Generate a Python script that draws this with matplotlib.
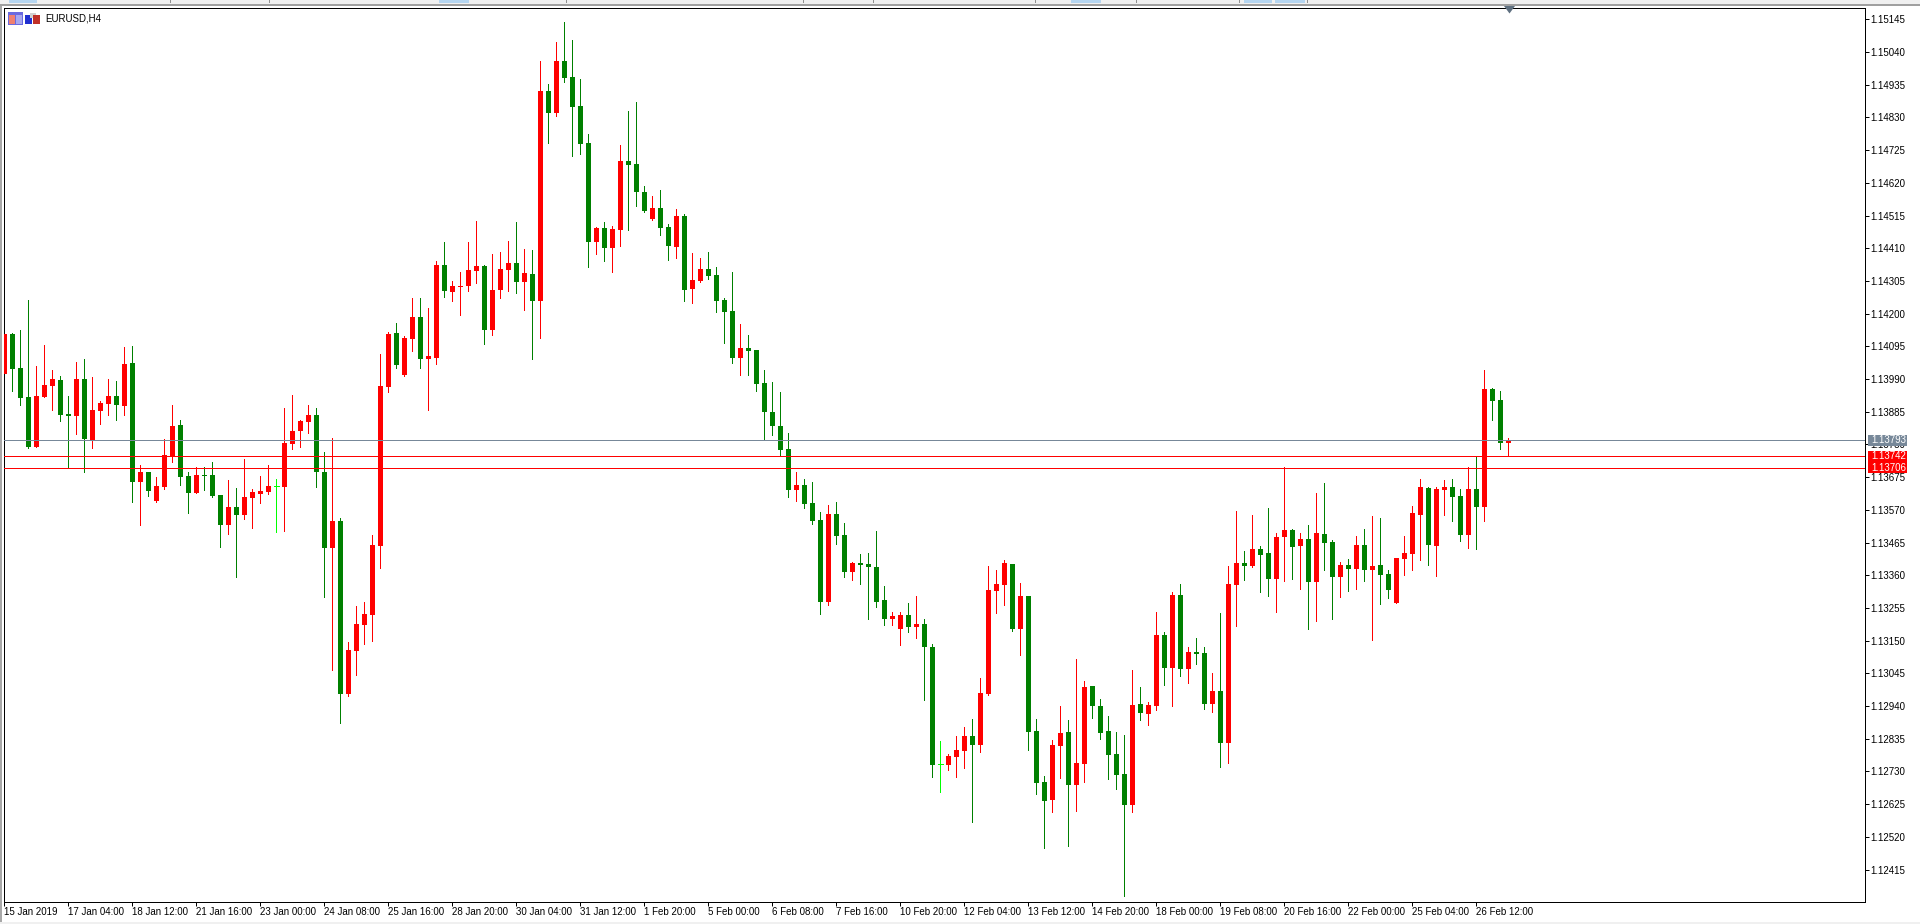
import numpy as np
import matplotlib
matplotlib.use("Agg")
import matplotlib.pyplot as plt
from matplotlib.patches import Rectangle, Polygon
from matplotlib.transforms import IdentityTransform

# EURUSD H4 candles, prices in units of 0.00001
opens = [
    114007,114136,114026,113933,113773,113933,113968,113988,113879,113872,
    113991,113795,113888,113911,113936,113904,114042,113660,113692,113599,
    113644,113741,113843,113680,113625,113683,113683,113619,113522,113580,
    113554,113609,113622,113628,113646,113644,113782,113824,113853,113875,
    113692,113448,113535,112980,113118,113201,113233,113455,113965,114139,
    114004,114119,114190,114055,114058,114357,114270,114286,114290,114338,
    114354,114148,114277,114341,114363,114302,114328,114241,114916,114845,
    115012,114961,114868,114749,114431,114476,114412,114470,114691,114681,
    114592,114505,114540,114479,114415,114514,114280,114306,114344,114325,
    114245,114209,114058,114091,114084,113978,113885,113840,
    113767,113635,113651,113593,113539,113275,113558,113490,113372,113401,
    113397,113388,113279,113218,113189,113234,113195,113205,113131,112753,
    112752,112778,112797,112845,112816,112980,113311,113330,113397,113189,
    113292,112861,112697,112640,112813,112858,112685,112755,113006,
    112941,112861,112787,112723,112623,112947,112915,112941,113169,113063,
    113297,113060,113114,113111,112947,112989,112822,113329,113400,113390,
    113445,113432,113349,113484,113506,113455,113477,113339,113493,113467,
    113355,113394,113381,113458,113378,113394,113365,113272,113413,113429,
    113554,113641,113455,113634,113644,113615,113490,113638,113580,113959,
    113923,113785,
]
highs = [
    114136,114139,114148,114245,114033,114100,114020,114001,113936,114046,
    114055,113997,113920,113991,113985,114094,114097,113715,113692,113676,
    113798,113908,113859,113692,113708,113708,113725,113619,113667,113641,
    113734,113638,113680,113715,113670,113898,113940,113859,113908,113898,
    113757,113802,113545,113147,113262,113275,113490,114071,114142,114171,
    114129,114251,114251,114219,114370,114431,114306,114335,114431,114498,
    114357,114392,114399,114434,114495,114408,114405,115012,114938,115073,
    115137,115080,114954,114778,114479,114495,114482,114742,114852,114880,
    114611,114579,114598,114489,114537,114521,114396,114380,114399,114351,
    114251,114335,114168,114132,114084,114020,113981,113949,
    113818,113690,113670,113661,113564,113587,113596,113529,113404,113429,
    113433,113503,113324,113243,113243,113272,113295,113218,113140,112829,
    112787,112845,112874,112900,113031,113391,113378,113410,113397,113336,
    113292,112900,112717,112832,112941,112896,113092,113022,113006,
    112964,112909,112858,112848,113057,113002,112954,113243,113179,113307,
    113333,113130,113159,113130,113047,113240,113391,113567,113439,113554,
    113455,113577,113496,113707,113509,113496,113522,113625,113657,113474,
    113403,113413,113487,113509,113551,113545,113378,113416,113487,113583,
    113670,113644,113644,113667,113670,113638,113707,113743,114020,113962,
    113952,113801,
]
lows = [
    114007,113952,113908,113769,113773,113933,113891,113856,113707,113814,
    113692,113769,113846,113875,113859,113875,113596,113522,113615,113596,
    113638,113725,113651,113561,113625,113635,113612,113452,113493,113355,
    113542,113513,113593,113622,113500,113503,113766,113773,113818,113644,
    113291,113057,112886,112973,113041,113140,113150,113384,113949,114026,
    114001,114081,114026,113892,114039,114254,114241,114197,114274,114299,
    114103,114132,114251,114274,114267,114213,114055,114123,114749,114835,
    114945,114707,114713,114351,114392,114370,114335,114418,114470,114547,
    114527,114502,114453,114373,114380,114241,114235,114302,114312,114206,
    114107,114042,114004,114004,113953,113793,113811,113744,
    113612,113600,113577,113526,113237,113263,113462,113356,113346,113333,
    113221,113259,113201,113201,113137,113179,113157,112961,112713,112665,
    112736,112713,112742,112569,112794,112977,113240,113263,113182,113105,
    112800,112659,112485,112601,112710,112492,112604,112697,112903,
    112835,112707,112675,112331,112601,112896,112880,112928,113008,112941,
    113037,113015,113076,112931,112922,112745,112758,113198,113345,113387,
    113307,113294,113243,113342,113349,113317,113188,113214,113378,113220,
    113291,113310,113317,113342,113153,113268,113288,113272,113361,113378,
    113410,113394,113358,113554,113535,113471,113448,113445,113535,113859,
    113766,113742,
]
closes = [
    114136,114023,113930,113773,113936,113972,113991,113875,113872,113991,
    113798,113891,113914,113936,113908,114039,113660,113692,113631,113647,
    113747,113840,113676,113625,113683,113680,113615,113522,113580,113554,
    113612,113628,113631,113647,113646,113786,113824,113856,113875,113692,
    113448,113535,112980,113121,113204,113236,113458,113968,114136,114036,
    114123,114190,114055,114065,114357,114274,114290,114290,114341,114354,
    114148,114277,114344,114363,114302,114331,114241,114916,114845,115012,
    114958,114864,114746,114431,114476,114412,114473,114691,114678,114592,
    114531,114540,114476,114418,114514,114277,114309,114344,114322,114241,
    114206,114058,114091,114081,113975,113885,113840,113763,
    113635,113651,113590,113535,113275,113558,113487,113372,113401,113394,
    113385,113275,113218,113230,113234,113195,113205,113131,112752,112753,
    112781,112800,112845,112816,112983,113314,113333,113401,113189,113292,
    112858,112694,112636,112816,112855,112688,112758,113002,112941,
    112854,112784,112720,112623,112944,112919,112944,113169,113063,113297,
    113060,113114,113108,112947,112989,112822,113333,113400,113390,113445,
    113426,113349,113484,113506,113451,113477,113339,113496,113464,113355,
    113394,113381,113458,113378,113390,113361,113313,113416,113432,113561,
    113644,113458,113638,113644,113612,113490,113638,113580,113959,113920,
    113785,113793,
]

# Axis labels
price_labels = [
    "1.15145","1.15040","1.14935","1.14830","1.14725","1.14620","1.14515",
    "1.14410","1.14305","1.14200","1.14095","1.13990","1.13885","1.13780",
    "1.13675","1.13570","1.13465","1.13360","1.13255","1.13150","1.13045",
    "1.12940","1.12835","1.12730","1.12625","1.12520","1.12415",
]
time_labels = [
    "15 Jan 2019","17 Jan 04:00","18 Jan 12:00","21 Jan 16:00","23 Jan 00:00",
    "24 Jan 08:00","25 Jan 16:00","28 Jan 20:00","30 Jan 04:00","31 Jan 12:00",
    "1 Feb 20:00","5 Feb 00:00","6 Feb 08:00","7 Feb 16:00","10 Feb 20:00",
    "12 Feb 04:00","13 Feb 12:00","14 Feb 20:00","18 Feb 00:00","19 Feb 08:00",
    "20 Feb 16:00","22 Feb 00:00","25 Feb 04:00","26 Feb 12:00",
]
time_label_step = 8

# Bid line and the two horizontal levels
bid_price = 1.13793
level_prices = [1.13742, 1.13706]

UP = "#FF0000"
DOWN = "#008000"
FLAT = "#00FF00"
BID = "#778899"
CHROME = "#F0F0F0"
FONT = "Liberation Sans"
FONT_SIZE = 7.0

W, H = 1920, 924
plt.rcParams["font.family"] = [FONT, "DejaVu Sans"]
plt.rcParams["font.size"] = FONT_SIZE

fig = plt.figure(figsize=(W / 100, H / 100), dpi=100, facecolor="white")
# The quarter-pixel offset keeps snapped one-pixel lines on the intended pixel rows and columns
left, right, top, bottom = 4.25, 1865.25, 8.25, 902.25
ax = fig.add_axes([left / W, 1 - bottom / H, (right - left) / W, (bottom - top) / H])
ax.set_facecolor("white")

o = np.array(opens) / 1e5
h = np.array(highs) / 1e5
l = np.array(lows) / 1e5
c = np.array(closes) / 1e5
idx = np.arange(len(o))
colors = np.where(c > o, UP, np.where(c < o, DOWN, FLAT))

# Candle wicks and bodies, one pixel wide and five pixels wide at this scale
ax.vlines(idx, l, h, colors=colors, linewidth=0.72, antialiased=False, zorder=2)
body_width = 5 / 8
solid = c != o
ax.bar(idx[solid], np.abs(c - o)[solid], bottom=np.minimum(o, c)[solid],
       width=body_width, color=colors[solid], linewidth=0, antialiased=False, zorder=3)
ax.hlines(o[~solid], idx[~solid] - body_width / 2, idx[~solid] + body_width / 2,
          colors=colors[~solid], linewidth=0.72, antialiased=False, zorder=3)

# Horizontal price lines
ax.axhline(bid_price, color=BID, linewidth=0.72, antialiased=False, zorder=4)
for level in level_prices:
    ax.axhline(level, color=UP, linewidth=0.72, antialiased=False, zorder=4)

ax.set_xlim(0, (right - left) / 8)
ax.set_ylim(1.15208 - 0.00003211 * 902.5, 1.15208 - 0.00003211 * 8.5)

ax.yaxis.tick_right()
ax.set_yticks([float(t) for t in price_labels], price_labels)
ax.set_xticks(np.arange(len(time_labels)) * time_label_step, time_labels)
ax.tick_params(axis="both", length=2.9, width=0.72, color="black", labelcolor="black",
               labelsize=FONT_SIZE)
ax.tick_params(axis="y", pad=0.7)
ax.tick_params(axis="x", pad=0.6)
for label in ax.get_xticklabels():
    label.set_ha("left")
for spine in ax.spines.values():
    spine.set_linewidth(0.72)
    spine.set_color("black")

def px_rect(x0, y0, x1, y1, color, z=1):
    """Filled rectangle in image pixel coordinates, origin at the top left."""
    patch = Rectangle((x0, H - y1), x1 - x0, y1 - y0, transform=IdentityTransform(),
                      facecolor=color, edgecolor="none", linewidth=0, antialiased=False, zorder=z)
    fig.add_artist(patch)

def px_text(x, y, s, color="black", size=FONT_SIZE):
    fig.text(x / W, 1 - y / H, s, color=color, fontsize=size, ha="left", va="center",
             family=[FONT, "DejaVu Sans"], zorder=6)

def price_to_px(price):
    return H - ax.transData.transform((0, price))[1]

# Window chrome: toolbar strip along the top and thin frame
px_rect(0, 0, W, 4, CHROME, -1)
px_rect(0, 4, W, 6, "#A0A0A0", -1)
px_rect(0, 6, 2, H, "#A8A8A8", -1)
px_rect(0, 922, W, H, CHROME, -1)
for x0, x1 in [(9, 37), (439, 469), (1071, 1101), (1244, 1272), (1275, 1305)]:
    px_rect(x0, 0, x1, 2.5, "#B5D5F0", -1)
for x in [170, 269, 566, 803, 873, 1035, 1136, 1239, 1307]:
    px_rect(x, 0, x + 1, 3, "#909090", -1)

# Small chart-window icons next to the symbol caption
px_rect(8, 12, 23, 25, "#6A6AE0", 4)
px_rect(9, 15, 15, 24, "#F08070", 4)
px_rect(16, 15, 22, 24, "#A8A8F0", 4)
px_rect(25, 15, 32, 24, "#2030D0", 4)
px_rect(30, 13, 36, 18, "#D0D0D0", 4)
px_rect(33, 15, 40, 24, "#C03028", 4)
px_text(45, 18.5, "EURUSD,H4")

# Price tags on the right-hand scale
def price_tag(price, color):
    yc = price_to_px(price)
    px_rect(1868, yc - 5.5, 1907, yc + 5.5, color, 5)
    px_text(1871, yc, f"{price:.5f}", color="white")

price_tag(bid_price, BID)
for level in level_prices:
    price_tag(level, UP)

# Marker for the chart shift position
fig.add_artist(Polygon([(1504, H - 6), (1515, H - 6), (1509.5, H - 13.5)], closed=True,
                       transform=IdentityTransform(), facecolor="#5F7080",
                       edgecolor="none", zorder=5))

fig.savefig("out.png", dpi=100, facecolor="white")
